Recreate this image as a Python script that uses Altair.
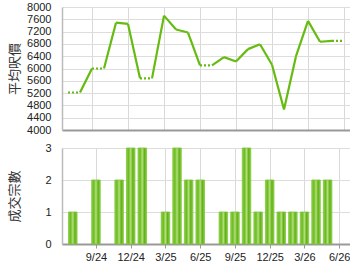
import altair as alt
import pandas as pd

months = ["7/24", "8/24", "9/24", "10/24", "11/24", "12/24", "1/25", "2/25", "3/25", "4/25",
          "5/25", "6/25", "7/25", "8/25", "9/25", "10/25", "11/25", "12/25", "1/26", "2/26",
          "3/26", "4/26", "5/26", "6/26"]
price = [5220, 5220, 6000, 6000, 7490, 7450, 5680, 5680, 7720, 7270,
         7170, 6100, 6100, 6370, 6230, 6630, 6790, 6120, 4670, 6400,
         7550, 6870, 6900, 6900]
volume = [1, 0, 2, 0, 2, 3, 3, 0, 1, 3,
          2, 2, 0, 1, 1, 3, 1, 2, 1, 1,
          1, 2, 2, 0]
tick_months = ["9/24", "12/24", "3/25", "6/25", "9/25", "12/25", "3/26", "6/26"]

idx = list(range(len(months)))
tick_idx = [months.index(m) for m in tick_months]
label_expr = "{" + ",".join(f"'{i}':'{m}'" for i, m in zip(tick_idx, tick_months)) + "}[datum.value]"

rows = []
for i in range(len(months) - 1):
    style = "dot" if volume[i + 1] == 0 else "solid"
    rows.append({"seg": i, "t": i, "price": price[i], "style": style})
    rows.append({"seg": i, "t": i + 1, "price": price[i + 1], "style": style})
line_df = pd.DataFrame(rows)
bar_df = pd.DataFrame({"t": idx, "month": months, "volume": volume})

FONT = "Liberation Sans"
xscale = alt.Scale(domain=[-0.5, len(months) - 0.5], nice=False, zero=False)

x_top = alt.X("t:Q", scale=xscale,
              axis=alt.Axis(values=tick_idx, labels=False, ticks=False, title=None,
                            grid=True, gridColor="#d9d9d9", domainColor="#999999", domainWidth=2))
y_top = alt.Y("price:Q", scale=alt.Scale(domain=[4000, 8000], nice=False),
              axis=alt.Axis(values=list(range(4000, 8001, 400)), title="平均呎價", format="d",
                            titleFont="Noto Sans CJK TC", titleFontSize=13, titleFontWeight="normal",
                            titleColor="#333333", titlePadding=5,
                            labelFont=FONT, labelFontSize=11, labelColor="#222222",
                            labelOverlap=False, labelFlush=False,
                            ticks=False, labelPadding=11, grid=True, gridColor="#dddddd",
                            domainColor="#bbbbbb", domainWidth=1.5))
line_green = "#66bb11"

solid = alt.Chart(line_df).transform_filter(alt.datum.style == "solid").mark_line(
    color=line_green, strokeWidth=2.2, strokeCap="butt", clip=True
).encode(x=x_top, y=y_top, detail="seg:N")
dotted = alt.Chart(line_df).transform_filter(alt.datum.style == "dot").mark_line(
    color=line_green, strokeWidth=2.2, strokeDash=[2, 2], clip=True
).encode(x=x_top, y=y_top, detail="seg:N")

top = alt.layer(solid, dotted).properties(width=288, height=123)

bar_grad = alt.Gradient(
    gradient="linear", x1=0, x2=1, y1=0, y2=0,
    stops=[alt.GradientStop(offset=0, color="#8ccf4a"),
           alt.GradientStop(offset=0.25, color="#6dbb22"),
           alt.GradientStop(offset=0.5, color="#b2e07a"),
           alt.GradientStop(offset=0.75, color="#62b018"),
           alt.GradientStop(offset=1, color="#8ccf4a")])

bottom = alt.Chart(bar_df).transform_filter(alt.datum.volume > 0).mark_bar(
    size=8.5, color=bar_grad, stroke="#7cc633", strokeWidth=0.8
).encode(
    x=alt.X("t:Q", scale=xscale,
            axis=alt.Axis(values=tick_idx, labelExpr=label_expr, title=None,
                          labelFont=FONT, labelFontSize=11, labelColor="#222222",
                          labelFlush=False, labelOverlap=False,
                          ticks=True, tickSize=4, tickColor="#999999", labelPadding=3,
                          grid=True, gridColor="#d9d9d9", domainColor="#999999", domainWidth=2)),
    y=alt.Y("volume:Q", scale=alt.Scale(domain=[0, 3], nice=False),
            axis=alt.Axis(values=[0, 1, 2, 3], title="成交宗數", format="d",
                          titleFont="Noto Sans CJK TC", titleFontSize=13, titleFontWeight="normal",
                          titleColor="#333333", titlePadding=23,
                          labelFont=FONT, labelFontSize=11, labelColor="#222222",
                          labelOverlap=False, labelFlush=False,
                          ticks=False, labelPadding=11, grid=True, gridColor="#dddddd",
                          domainColor="#bbbbbb", domainWidth=1.5)),
).properties(width=288, height=96)

chart = alt.vconcat(top, bottom, spacing=7).properties(
    padding={"left": 8, "top": 1, "right": 0, "bottom": 0},
    background="white",
).configure_view(stroke=None)

chart.save("out.html", embed_options={"renderer": "svg", "actions": False})
